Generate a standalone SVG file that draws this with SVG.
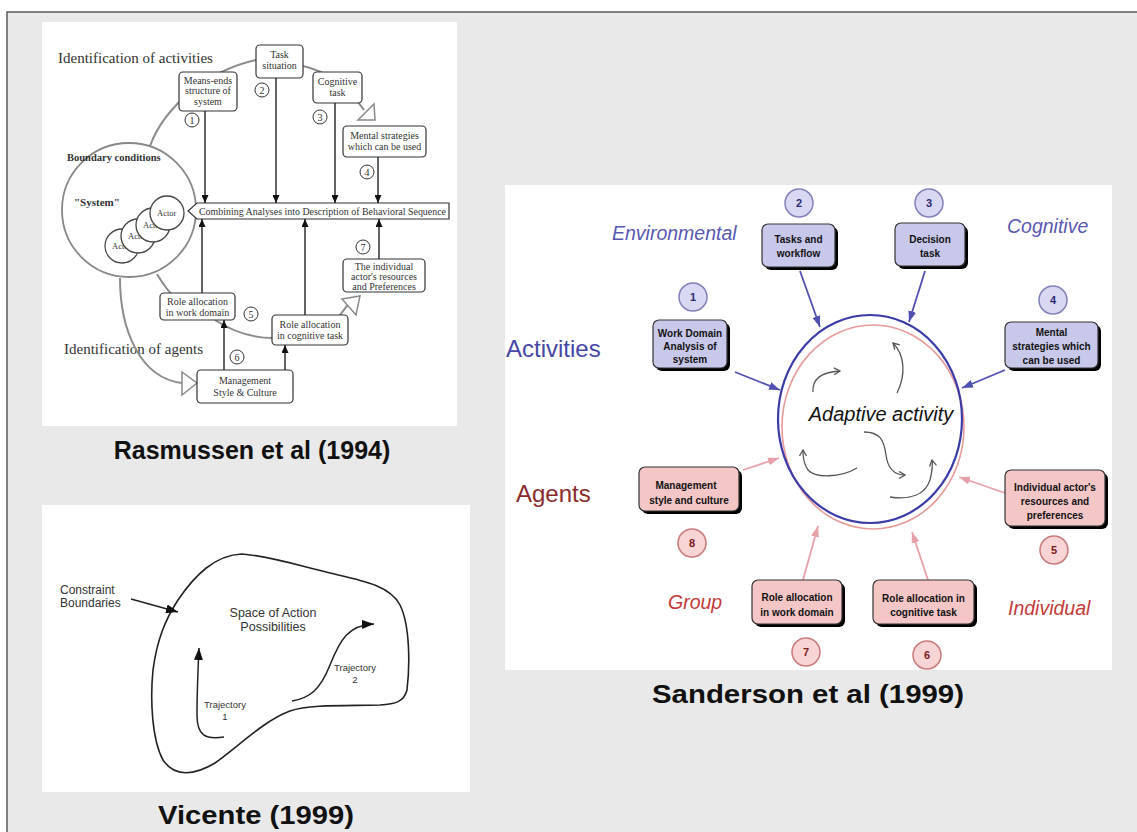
<svg xmlns="http://www.w3.org/2000/svg" width="1137" height="832" viewBox="0 0 1137 832">
<defs>
<style>
.ser{font-family:"Liberation Serif","DejaVu Serif",serif;fill:#333}
.sans{font-family:"Liberation Sans",Arial,sans-serif}
.rbox{fill:#fff;stroke:#333;stroke-width:1.2}
.rt{font-family:"Liberation Serif","DejaVu Serif",serif;font-size:10px;fill:#333;text-anchor:middle}
.rnum{fill:#fff;stroke:#333;stroke-width:1}
.arc{fill:none;stroke:#8c8c8c;stroke-width:2}
.tri{fill:#fff;stroke:#888;stroke-width:1.5}
.blk{fill:none;stroke:#222;stroke-width:1.4}
.pbox{fill:#c8c8ea;stroke:#333;stroke-width:1.2}
.kbox{fill:#f5c6c6;stroke:#333;stroke-width:1.2}
.shd{fill:#000}
.bt{font-family:"Liberation Sans",Arial,sans-serif;font-size:10px;font-weight:bold;fill:#111;text-anchor:middle}
.pc{fill:#d8d8f2;stroke:#8080b8;stroke-width:1.5}
.kc{fill:#f9d4d4;stroke:#c87a7a;stroke-width:1.5}
.pn{font-family:"Liberation Sans",Arial,sans-serif;font-size:11px;font-weight:bold;fill:#2a2a70;text-anchor:middle}
.kn{font-family:"Liberation Sans",Arial,sans-serif;font-size:11px;font-weight:bold;fill:#7a1a1a;text-anchor:middle}
.pa{fill:none;stroke:#5050b0;stroke-width:1.8}
.ka{fill:none;stroke:#e8a0a8;stroke-width:1.8}
.curl{fill:none;stroke:#555;stroke-width:1.3}
.cap{font-family:"Liberation Sans",Arial,sans-serif;font-size:25px;font-weight:bold;fill:#111;text-anchor:middle}
</style>
<marker id="ab" markerWidth="8" markerHeight="7" refX="8" refY="3.5" orient="auto" markerUnits="userSpaceOnUse"><path d="M0,0 L8,3.5 L0,7 z" fill="#111"/></marker>
<marker id="av" markerWidth="12" markerHeight="9" refX="12" refY="4.5" orient="auto" markerUnits="userSpaceOnUse"><path d="M0,0 L12,4.5 L0,9 z" fill="#111"/></marker>
<marker id="ap" markerWidth="11" markerHeight="8" refX="11" refY="4" orient="auto" markerUnits="userSpaceOnUse"><path d="M0,0 L11,4 L0,8 z" fill="#5050b0"/></marker>
<marker id="ak" markerWidth="11" markerHeight="8" refX="11" refY="4" orient="auto" markerUnits="userSpaceOnUse"><path d="M0,0 L11,4 L0,8 z" fill="#e8a0a8"/></marker>
<marker id="ac" markerWidth="8" markerHeight="8" refX="7" refY="4" orient="auto" markerUnits="userSpaceOnUse"><path d="M1,0.5 L7,4 L1,7.5" fill="none" stroke="#555" stroke-width="1.3"/></marker>
</defs>

<rect x="0" y="0" width="1137" height="832" fill="#fff"/>
<rect x="7" y="12" width="1140" height="830" fill="#e9e9e9" stroke="#5a5a5a" stroke-width="1.5"/>

<!-- Rasmussen panel -->
<g id="rasmussen">
<rect x="42" y="22" width="415" height="404" fill="#fff"/>
<text class="ser" x="58" y="63" font-size="15">Identification of activities</text>
<text class="ser" x="64" y="354" font-size="15">Identification of agents</text>
<g id="r-arcs">
<path class="arc" d="M150,146 C165,105 210,70 256,60 L303,66 C330,72 350,90 364,110"/>
<polygon class="tri" points="358,120 374,104 375,120"/>
<path class="arc" d="M157,274 C165,288 172,296 180,302"/>
<path class="arc" d="M215,320 C235,333 255,338 273,338"/>
<path class="arc" d="M338,318 C343,311 347,306 350,302"/>
<polygon class="tri" points="342,299 360,296 356,315"/>
<path class="arc" d="M120,278 C120,330 140,378 182,383"/>
<polygon class="tri" points="182,372 197,383 182,395"/>
</g>
<g id="r-system">
<circle cx="129" cy="210" r="67" fill="#fff" stroke="#888" stroke-width="1.8"/>
<text class="ser" x="67" y="161" font-size="10.5" font-weight="bold">Boundary conditions</text>
<text class="ser" x="74" y="206" font-size="11" font-weight="bold">"System"</text>
<circle cx="122" cy="246" r="17" fill="#fff" stroke="#444" stroke-width="1.3"/>
<text class="ser" x="112" y="249" font-size="8.5">Actor</text>
<circle cx="138" cy="236" r="17" fill="#fff" stroke="#444" stroke-width="1.3"/>
<text class="ser" x="128" y="239" font-size="8.5">Actor</text>
<circle cx="153" cy="225" r="17" fill="#fff" stroke="#444" stroke-width="1.3"/>
<text class="ser" x="143" y="228" font-size="8.5">Actor</text>
<circle cx="167" cy="213" r="17" fill="#fff" stroke="#444" stroke-width="1.3"/>
<text class="ser" x="157" y="216" font-size="8.5">Actor</text>
</g>
<g id="r-combine">
<polygon points="449,203 197,203 188,211 197,219 449,219" fill="#fff" stroke="#333" stroke-width="1.2"/>
<text class="ser" x="199" y="214.5" font-size="10" textLength="247" lengthAdjust="spacingAndGlyphs">Combining Analyses into Description of Behavioral Sequence</text>
</g>
<g id="r-box1"><rect class="rbox" x="179" y="72" width="58" height="39" rx="4"/>
<text class="rt" x="208" y="84">Means-ends</text><text class="rt" x="208" y="94">structure of</text><text class="rt" x="208" y="105">system</text>
<circle class="rnum" cx="192" cy="120" r="7"/><text class="rt" x="192" y="124">1</text></g>
<g id="r-box2"><rect class="rbox" x="256" y="45" width="47" height="33" rx="4"/>
<text class="rt" x="279.5" y="58">Task</text><text class="rt" x="279.5" y="69">situation</text>
<circle class="rnum" cx="262" cy="90" r="7"/><text class="rt" x="262" y="94">2</text></g>
<g id="r-box3"><rect class="rbox" x="313" y="72" width="49" height="31" rx="4"/>
<text class="rt" x="337.5" y="85">Cognitive</text><text class="rt" x="337.5" y="96">task</text>
<circle class="rnum" cx="320" cy="117" r="7"/><text class="rt" x="320" y="121">3</text></g>
<g id="r-box4"><rect class="rbox" x="343" y="126" width="83" height="31" rx="4"/>
<text class="rt" x="384.5" y="139">Mental strategies</text><text class="rt" x="384.5" y="150">which can be used</text>
<circle class="rnum" cx="367" cy="172" r="7"/><text class="rt" x="367" y="176">4</text></g>
<g id="r-box5"><rect class="rbox" x="160" y="293" width="75" height="27" rx="4"/>
<text class="rt" x="197.5" y="305">Role allocation</text><text class="rt" x="197.5" y="316">in work domain</text>
<circle class="rnum" cx="251" cy="314" r="7"/><text class="rt" x="251" y="318">5</text></g>
<g id="r-box6"><rect class="rbox" x="272" y="315" width="76" height="30" rx="4"/>
<text class="rt" x="310" y="328">Role allocation</text><text class="rt" x="310" y="339">in cognitive task</text></g>
<g id="r-box7"><rect class="rbox" x="343" y="259" width="82" height="33" rx="4"/>
<text class="rt" x="384" y="270">The individual</text><text class="rt" x="384" y="280">actor's resources</text><text class="rt" x="384" y="290">and Preferences</text>
<circle class="rnum" cx="363" cy="247" r="7"/><text class="rt" x="363" y="251">7</text></g>
<g id="r-box8"><rect class="rbox" x="197" y="370" width="96" height="33" rx="4"/>
<text class="rt" x="245" y="384">Management</text><text class="rt" x="245" y="396">Style &amp; Culture</text>
<circle class="rnum" cx="237" cy="357" r="7"/><text class="rt" x="237" y="361">6</text></g>
<g id="r-connectors">
<line class="blk" x1="205" y1="111" x2="205" y2="203" marker-end="url(#ab)"/>
<line class="blk" x1="276" y1="78" x2="276" y2="203" marker-end="url(#ab)"/>
<line class="blk" x1="335" y1="103" x2="335" y2="203" marker-end="url(#ab)"/>
<line class="blk" x1="378" y1="157" x2="378" y2="203" marker-end="url(#ab)"/>
<line class="blk" x1="202" y1="293" x2="202" y2="219" marker-end="url(#ab)"/>
<line class="blk" x1="305" y1="315" x2="305" y2="219" marker-end="url(#ab)"/>
<line class="blk" x1="379" y1="259" x2="379" y2="219" marker-end="url(#ab)"/>
<line class="blk" x1="224" y1="370" x2="224" y2="320" marker-end="url(#ab)"/>
<line class="blk" x1="285" y1="370" x2="285" y2="345" marker-end="url(#ab)"/>
</g>
</g>
<text class="cap" x="252" y="459">Rasmussen et al (1994)</text>

<!-- Vicente panel -->
<g id="vicente">
<rect x="42" y="505" width="428" height="287" fill="#fff"/>
<path d="M242,554 C270,556 300,566 330,573 C360,580 390,585 400,605 C410,625 410,665 407,690 C404,702 395,704 380,705 C350,706 310,704 290,711 C265,720 240,745 215,763 C195,775 175,778 163,760 C152,740 150,700 153,670 C157,640 165,620 178,600 C195,575 215,555 242,554 Z" fill="none" stroke="#222" stroke-width="1.6"/>
<text class="sans" x="60" y="594" font-size="12" fill="#333">Constraint</text>
<text class="sans" x="60" y="607" font-size="12" fill="#333">Boundaries</text>
<line x1="131" y1="599" x2="178" y2="612" stroke="#222" stroke-width="1.5" marker-end="url(#av)"/>
<text class="sans" x="273" y="617" font-size="12.5" fill="#333" text-anchor="middle">Space of Action</text>
<text class="sans" x="273" y="631" font-size="12.5" fill="#333" text-anchor="middle">Possibilities</text>
<path d="M224,737 C205,740 197,735 197,715 C197,690 198,670 199,648" fill="none" stroke="#222" stroke-width="1.5" marker-end="url(#av)"/>
<path d="M292,701 C310,698 320,690 330,665 C340,640 348,625 374,624" fill="none" stroke="#222" stroke-width="1.5" marker-end="url(#av)"/>
<text class="sans" x="225" y="708" font-size="9.5" fill="#333" text-anchor="middle">Trajectory</text>
<text class="sans" x="225" y="720" font-size="9.5" fill="#333" text-anchor="middle">1</text>
<text class="sans" x="355" y="671" font-size="9.5" fill="#333" text-anchor="middle">Trajectory</text>
<text class="sans" x="355" y="683" font-size="9.5" fill="#333" text-anchor="middle">2</text>
</g>
<text class="cap" x="256" y="824" font-size="26" textLength="196" lengthAdjust="spacingAndGlyphs">Vicente (1999)</text>

<!-- Sanderson panel -->
<rect x="505" y="185" width="607" height="485" fill="#fff"/>
<g id="s-labels">
<text class="sans" x="612" y="240" font-size="19.5" font-style="italic" fill="#5858b0">Environmental</text>
<text class="sans" x="1007" y="233" font-size="19.5" font-style="italic" fill="#5858b0">Cognitive</text>
<text class="sans" x="506" y="357" font-size="24" fill="#4646a6">Activities</text>
<text class="sans" x="516" y="502" font-size="24" fill="#8a2b2b">Agents</text>
<text class="sans" x="668" y="609" font-size="19.5" font-style="italic" fill="#c23a3a">Group</text>
<text class="sans" x="1008" y="615" font-size="19.5" font-style="italic" fill="#c23a3a">Individual</text>
</g>
<g id="s-center">
<ellipse cx="873" cy="427" rx="91" ry="102" fill="none" stroke="#e89a9a" stroke-width="1.6"/>
<ellipse cx="870" cy="419" rx="92" ry="104" fill="none" stroke="#3b3ba8" stroke-width="2.2"/>
<text class="sans" x="881" y="421" font-size="20" font-style="italic" fill="#111" text-anchor="middle">Adaptive activity</text>
<path class="curl" d="M813,392 C812,380 820,372 840,371" marker-end="url(#ac)"/>
<path class="curl" d="M897,393 C906,375 905,355 893,343" marker-end="url(#ac)"/>
<path class="curl" d="M864,432 C880,432 884,440 886,455 C888,470 895,475 905,475" marker-end="url(#ac)"/>
<path class="curl" d="M857,468 C840,478 815,478 808,470 C803,462 803,456 803,450" marker-end="url(#ac)"/>
<path class="curl" d="M890,497 C910,500 925,495 930,480 C932,472 933,466 932,460" marker-end="url(#ac)"/>
</g>
<g id="s-connectors">
<line class="pa" x1="735" y1="372" x2="780" y2="390" marker-end="url(#ap)"/>
<line class="pa" x1="800" y1="271" x2="820" y2="327" marker-end="url(#ap)"/>
<line class="pa" x1="925" y1="271" x2="909" y2="322" marker-end="url(#ap)"/>
<line class="pa" x1="1005" y1="370" x2="962" y2="388" marker-end="url(#ap)"/>
<line class="ka" x1="743" y1="470" x2="779" y2="458" marker-end="url(#ak)"/>
<line class="ka" x1="803" y1="580" x2="818" y2="526" marker-end="url(#ak)"/>
<line class="ka" x1="928" y1="580" x2="912" y2="532" marker-end="url(#ak)"/>
<line class="ka" x1="1005" y1="493" x2="959" y2="477" marker-end="url(#ak)"/>
</g>
<g id="s-n1"><circle class="pc" cx="693" cy="297" r="14"/><text class="pn" x="693" y="301">1</text>
<rect class="shd" x="656" y="323" width="74" height="48" rx="6"/><rect class="pbox" x="653" y="320" width="74" height="48" rx="6"/>
<text class="bt" x="690" y="337">Work Domain</text><text class="bt" x="690" y="350">Analysis of</text><text class="bt" x="690" y="363">system</text></g>
<g id="s-n2"><circle class="pc" cx="799" cy="203" r="14"/><text class="pn" x="799" y="207">2</text>
<rect class="shd" x="765" y="227" width="73" height="43" rx="6"/><rect class="pbox" x="762" y="224" width="73" height="43" rx="6"/>
<text class="bt" x="798.5" y="243">Tasks and</text><text class="bt" x="798.5" y="257">workflow</text></g>
<g id="s-n3"><circle class="pc" cx="929" cy="203" r="14"/><text class="pn" x="929" y="207">3</text>
<rect class="shd" x="898" y="226" width="70" height="43" rx="6"/><rect class="pbox" x="895" y="223" width="70" height="43" rx="6"/>
<text class="bt" x="930" y="243">Decision</text><text class="bt" x="930" y="257">task</text></g>
<g id="s-n4"><circle class="pc" cx="1053" cy="300" r="14"/><text class="pn" x="1053" y="304">4</text>
<rect class="shd" x="1008" y="325" width="93" height="46" rx="6"/><rect class="pbox" x="1005" y="322" width="93" height="46" rx="6"/>
<text class="bt" x="1051.5" y="336">Mental</text><text class="bt" x="1051.5" y="350">strategies which</text><text class="bt" x="1051.5" y="364">can be used</text></g>
<g id="s-n8"><circle class="kc" cx="692" cy="543" r="14"/><text class="kn" x="692" y="547">8</text>
<rect class="shd" x="642" y="470" width="100" height="44" rx="6"/><rect class="kbox" x="639" y="467" width="100" height="44" rx="6"/>
<text class="bt" x="686" y="489">Management</text><text class="bt" x="689" y="504">style and culture</text></g>
<g id="s-n7"><circle class="kc" cx="806" cy="652" r="14"/><text class="kn" x="806" y="656">7</text>
<rect class="shd" x="755" y="583" width="90" height="44" rx="6"/><rect class="kbox" x="752" y="580" width="90" height="44" rx="6"/>
<text class="bt" x="797" y="601">Role allocation</text><text class="bt" x="797" y="616">in work domain</text></g>
<g id="s-n6"><circle class="kc" cx="927" cy="655" r="14"/><text class="kn" x="927" y="659">6</text>
<rect class="shd" x="876" y="583" width="101" height="44" rx="6"/><rect class="kbox" x="873" y="580" width="101" height="44" rx="6"/>
<text class="bt" x="923.5" y="602">Role allocation in</text><text class="bt" x="923.5" y="616">cognitive task</text></g>
<g id="s-n5"><circle class="kc" cx="1054" cy="550" r="14"/><text class="kn" x="1054" y="554">5</text>
<rect class="shd" x="1008" y="473" width="100" height="56" rx="6"/><rect class="kbox" x="1005" y="470" width="100" height="56" rx="6"/>
<text class="bt" x="1055" y="491">Individual actor's</text><text class="bt" x="1055" y="505">resources and</text><text class="bt" x="1055" y="519">preferences</text></g>
<text class="cap" x="808" y="703" font-size="26" textLength="312" lengthAdjust="spacingAndGlyphs">Sanderson et al (1999)</text>
</svg>
